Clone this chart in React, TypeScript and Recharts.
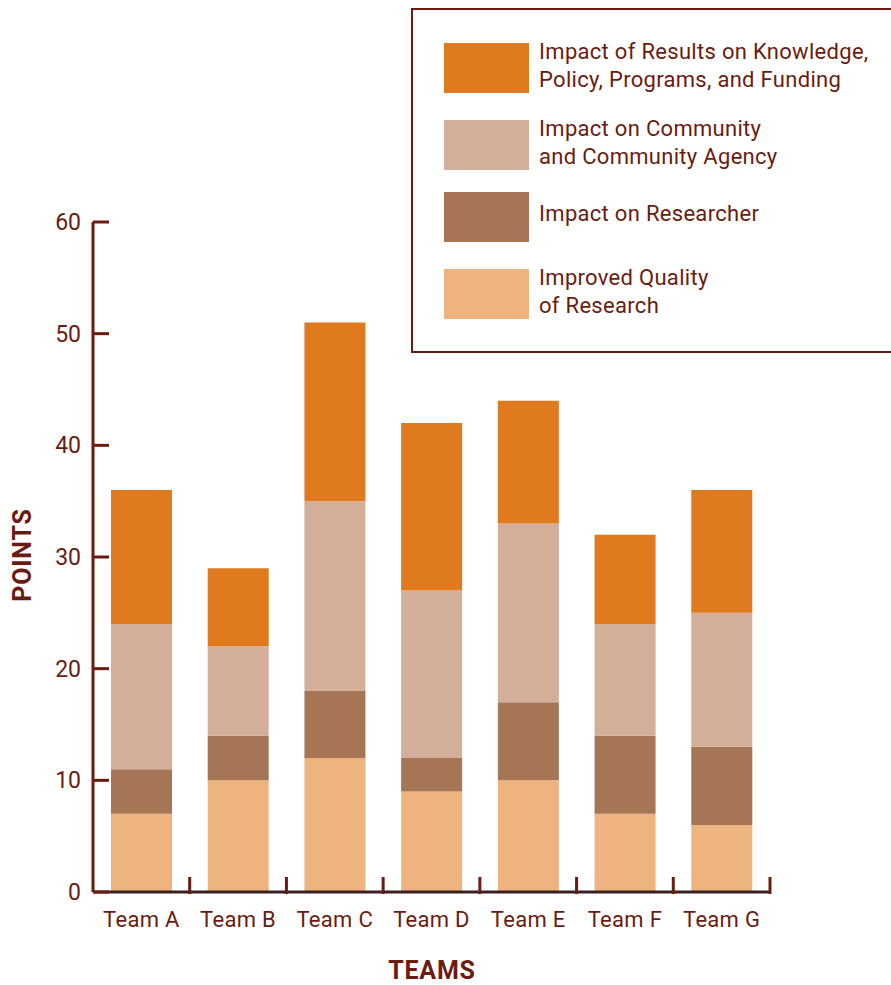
import { Bar, BarChart, Legend, XAxis, YAxis } from 'recharts'

const teams = ['Team A', 'Team B', 'Team C', 'Team D', 'Team E', 'Team F', 'Team G']
const quality = [7, 10, 12, 9, 10, 7, 6]
const researcher = [4, 4, 6, 3, 7, 7, 7]
const community = [13, 8, 17, 15, 16, 10, 12]
const results = [12, 7, 16, 15, 11, 8, 11]
const yTicks = [0, 10, 20, 30, 40, 50, 60]

const series = [
  { key: 'results', label: ['Impact of Results on Knowledge,', 'Policy, Programs, and Funding'], color: '#DF7A1E' },
  { key: 'community', label: ['Impact on Community', 'and Community Agency'], color: '#D3AF9A' },
  { key: 'researcher', label: ['Impact on Researcher'], color: '#A67556' },
  { key: 'quality', label: ['Improved Quality', 'of Research'], color: '#EEB47F' },
]

const data = teams.map((team, i) => ({
  team,
  quality: quality[i],
  researcher: researcher[i],
  community: community[i],
  results: results[i],
}))

const BROWN = '#6A1C10'
const FONT = 'Roboto, "Noto Sans", sans-serif'
const BAND = 677 / 7

const YTick = (props: any) => {
  const { x, y, payload } = props
  return (
    <g>
      <text x={x - 12} y={y} dy={8} textAnchor="end" fontSize={23} fill={BROWN} fontFamily={FONT}>
        {payload.value}
      </text>
      <line x1={x} x2={x + 16} y1={y} y2={y} stroke={BROWN} strokeWidth={3} />
    </g>
  )
}

const XTick = (props: any) => {
  const { x, y, payload } = props
  return (
    <g>
      <text
        x={x}
        y={y + 33}
        textAnchor="middle"
        fontSize={22}
        letterSpacing={0.3}
        fill={BROWN}
        fontFamily={FONT}
      >
        {payload.value}
      </text>
      <line x1={x + BAND / 2} x2={x + BAND / 2} y1={y} y2={y - 17} stroke={BROWN} strokeWidth={3} />
    </g>
  )
}

const LegendBox = () => {
  const rows = [35, 112, 184, 261]
  return (
    <div
      style={{
        position: 'absolute',
        left: 411,
        top: 8,
        width: 500,
        height: 345,
        border: `2.5px solid ${BROWN}`,
        boxSizing: 'border-box',
        fontFamily: FONT,
        color: BROWN,
      }}
    >
      {series.map((s, i) => (
        <div key={s.key} style={{ position: 'absolute', left: 31, top: rows[i] - 2, display: 'flex' }}>
          <div style={{ width: 85, height: 50, background: s.color }} />
          <div
            style={{
              marginLeft: 10,
              marginTop: s.label.length === 1 ? 8 : -5,
              fontSize: 22,
              letterSpacing: 0.3,
              lineHeight: '28px',
              whiteSpace: 'nowrap',
            }}
          >
            {s.label.map((l) => (
              <div key={l}>{l}</div>
            ))}
          </div>
        </div>
      ))}
    </div>
  )
}

const titleStyle = {
  position: 'absolute' as const,
  fontFamily: FONT,
  fontWeight: 'bold' as const,
  fontSize: 25,
  letterSpacing: 0.8,
  color: BROWN,
}

export default function App() {
  return (
    <div style={{ position: 'absolute', left: 0, top: 0, width: 891, height: 985, background: '#fff' }}>
      <BarChart
        width={891}
        height={985}
        data={data}
        margin={{ top: 222, right: 121, left: 0, bottom: 0 }}
      >
        <XAxis
          dataKey="team"
          height={93}
          tickLine={false}
          tickSize={0}
          axisLine={{ stroke: '#3A2020', strokeWidth: 3 }}
          tick={<XTick />}
          interval={0}
        />
        <YAxis
          width={93}
          domain={[0, 60]}
          ticks={yTicks}
          tickLine={false}
          tickSize={0}
          tickMargin={0}
          axisLine={{ stroke: BROWN, strokeWidth: 3 }}
          tick={<YTick />}
          interval={0}
        />
        <Legend content={() => null} />
        {[...series].reverse().map((s) => (
          <Bar key={s.key} dataKey={s.key} stackId="a" fill={s.color} barSize={61} isAnimationActive={false} />
        ))}
      </BarChart>
      <LegendBox />
      <div style={{ ...titleStyle, left: 22, top: 555, transform: 'translate(-50%, -50%) rotate(-90deg)' }}>
        POINTS
      </div>
      <div style={{ ...titleStyle, left: 432, top: 970, transform: 'translate(-50%, -50%)' }}>TEAMS</div>
    </div>
  )
}
